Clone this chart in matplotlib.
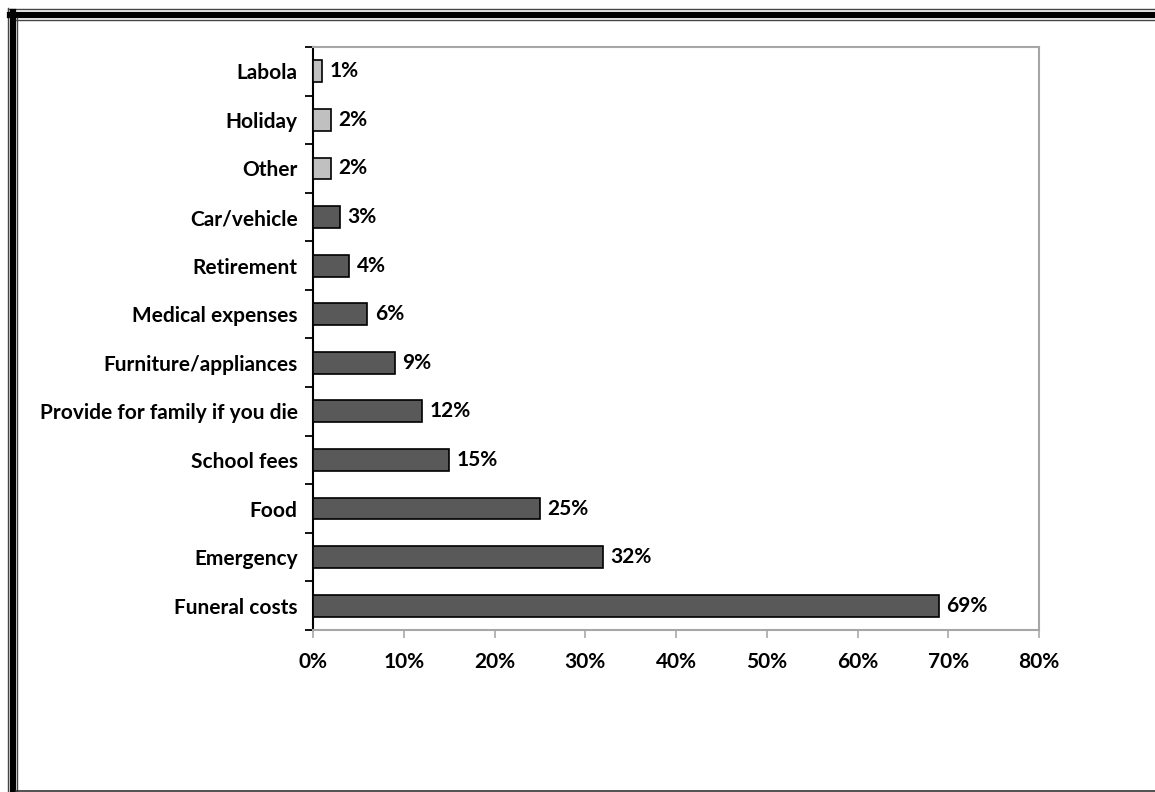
import matplotlib.pyplot as plt
from matplotlib.lines import Line2D

categories = ["Labola", "Holiday", "Other", "Car/vehicle", "Retirement",
              "Medical expenses", "Furniture/appliances",
              "Provide for family if you die", "School fees", "Food",
              "Emergency", "Funeral costs"]
values = [1, 2, 2, 3, 4, 6, 9, 12, 15, 25, 32, 69]
highlight = ["Labola", "Holiday", "Other"]
x_ticks = [0, 10, 20, 30, 40, 50, 60, 70, 80]
x_tick_labels = [f"{t}%" for t in x_ticks]

plt.rcParams['font.family'] = ['Lato', 'DejaVu Sans']
plt.rcParams['font.weight'] = 'bold'

W, H = 1155, 792
fig = plt.figure(figsize=(W / 100, H / 100), dpi=100)
fig.patch.set_facecolor('white')

# plot area in pixel coordinates
left, right, top, bottom = 313, 1039, 47, 630
ax = fig.add_axes([left / W, 1 - bottom / H, (right - left) / W, (bottom - top) / H])

n = len(categories)
ypos = [n - 1 - i for i in range(n)]
colors = ['#c0c0c0' if c in highlight else '#595959' for c in categories]
ax.barh(ypos, values, height=0.45, color=colors, edgecolor='black', linewidth=1.2, zorder=3)

for y, v in zip(ypos, values):
    ax.text(v + 0.8, y, f"{v}%", va='center', ha='left', fontsize=15, fontweight='bold')

ax.set_xlim(0, 80)
ax.set_ylim(-0.5, n - 0.5)
ax.set_xticks(x_ticks)
ax.set_xticklabels(x_tick_labels, fontsize=15, fontweight='bold')
ax.set_yticks(ypos)
ax.set_yticklabels(categories, fontsize=15, fontweight='bold')
ax.tick_params(axis='y', length=0, pad=11)
ax.set_yticks([i - 0.5 for i in range(n + 1)], minor=True)
ax.tick_params(axis='y', which='minor', length=6, width=1.3, color='black', direction='out')
ax.tick_params(axis='x', length=6, width=1.3, color='#b0b0b0', direction='out', pad=10)

for side in ['top', 'right', 'bottom']:
    ax.spines[side].set_color('#a6a6a6')
    ax.spines[side].set_linewidth(1.5)
ax.spines['left'].set_color('black')
ax.spines['left'].set_linewidth(1.5)

# double frame around the figure
def px_line(xs, ys, lw, color):
    fig.add_artist(Line2D([x / W for x in xs], [1 - y / H for y in ys],
                          transform=fig.transFigure, linewidth=lw, color=color))

px_line([7.5, 7.5], [8, H + 5], 1.0, '#444444')
px_line([7.5, W + 5], [8.5, 8.5], 1.0, '#444444')
px_line([12.5, 12.5], [12, H + 5], 4.5, 'black')
px_line([10, W + 5], [14.5, 14.5], 4.5, 'black')
px_line([16.5, 16.5], [18, H + 5], 1.0, '#444444')
px_line([16, W + 5], [19.5, 19.5], 1.0, '#444444')
px_line([16, W + 5], [790.5, 790.5], 1.2, '#333333')

fig.savefig('out.png', dpi=100, facecolor='white')
